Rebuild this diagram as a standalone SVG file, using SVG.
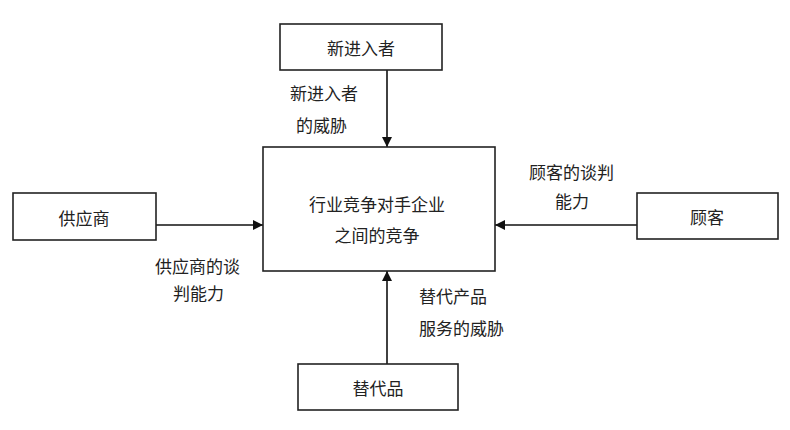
<svg xmlns="http://www.w3.org/2000/svg" width="790" height="430" viewBox="0 0 790 430">
<defs>
<marker id="ah" viewBox="0 0 10 10" refX="10" refY="5" markerWidth="10" markerHeight="10" markerUnits="userSpaceOnUse" orient="auto">
<path d="M0,0 L10,5 L0,10 Z" fill="#111"/>
</marker>
</defs>
<style>
.box{fill:#fff;stroke:#222;stroke-width:1.6}
.t{font-family:"Noto Sans CJK SC","Noto Sans",sans-serif;font-size:17px;fill:#222;text-anchor:middle;dominant-baseline:central}
.tl{font-family:"Noto Sans CJK SC","Noto Sans",sans-serif;font-size:17px;fill:#222;dominant-baseline:central}
.c{stroke:#111;stroke-width:1.6;fill:none;marker-end:url(#ah)}
</style>
<rect width="790" height="430" fill="#fff"/>
<g id="connectors">
<line class="c" x1="387" y1="70" x2="387" y2="147"/>
<line class="c" x1="156" y1="225" x2="263" y2="225"/>
<line class="c" x1="637" y1="225" x2="495" y2="225"/>
<line class="c" x1="387" y1="364" x2="387" y2="271"/>
</g>
<g id="node-new">
<rect class="box" x="280" y="24" width="162" height="46"/>
<text class="t" x="361" y="47">新进入者</text>
</g>
<g id="node-center">
<rect class="box" x="263" y="147" width="232" height="124"/>
<text class="t" x="377" y="203">行业竞争对手企业</text>
<text class="t" x="377" y="234">之间的竞争</text>
</g>
<g id="node-supplier">
<rect class="box" x="13" y="193" width="143" height="47"/>
<text class="t" x="84" y="217">供应商</text>
</g>
<g id="node-customer">
<rect class="box" x="637" y="193" width="141" height="46"/>
<text class="t" x="707" y="216">顾客</text>
</g>
<g id="node-substitute">
<rect class="box" x="298" y="364" width="160" height="46"/>
<text class="t" x="378" y="387">替代品</text>
</g>
<g id="labels">
<text class="tl" x="290" y="92">新进入者</text>
<text class="tl" x="296" y="124">的威胁</text>
<text class="tl" x="155" y="265">供应商的谈</text>
<text class="tl" x="173" y="292">判能力</text>
<text class="tl" x="529" y="171">顾客的谈判</text>
<text class="tl" x="555" y="200">能力</text>
<text class="tl" x="419" y="295">替代产品</text>
<text class="tl" x="419" y="327">服务的威胁</text>
</g>
</svg>
